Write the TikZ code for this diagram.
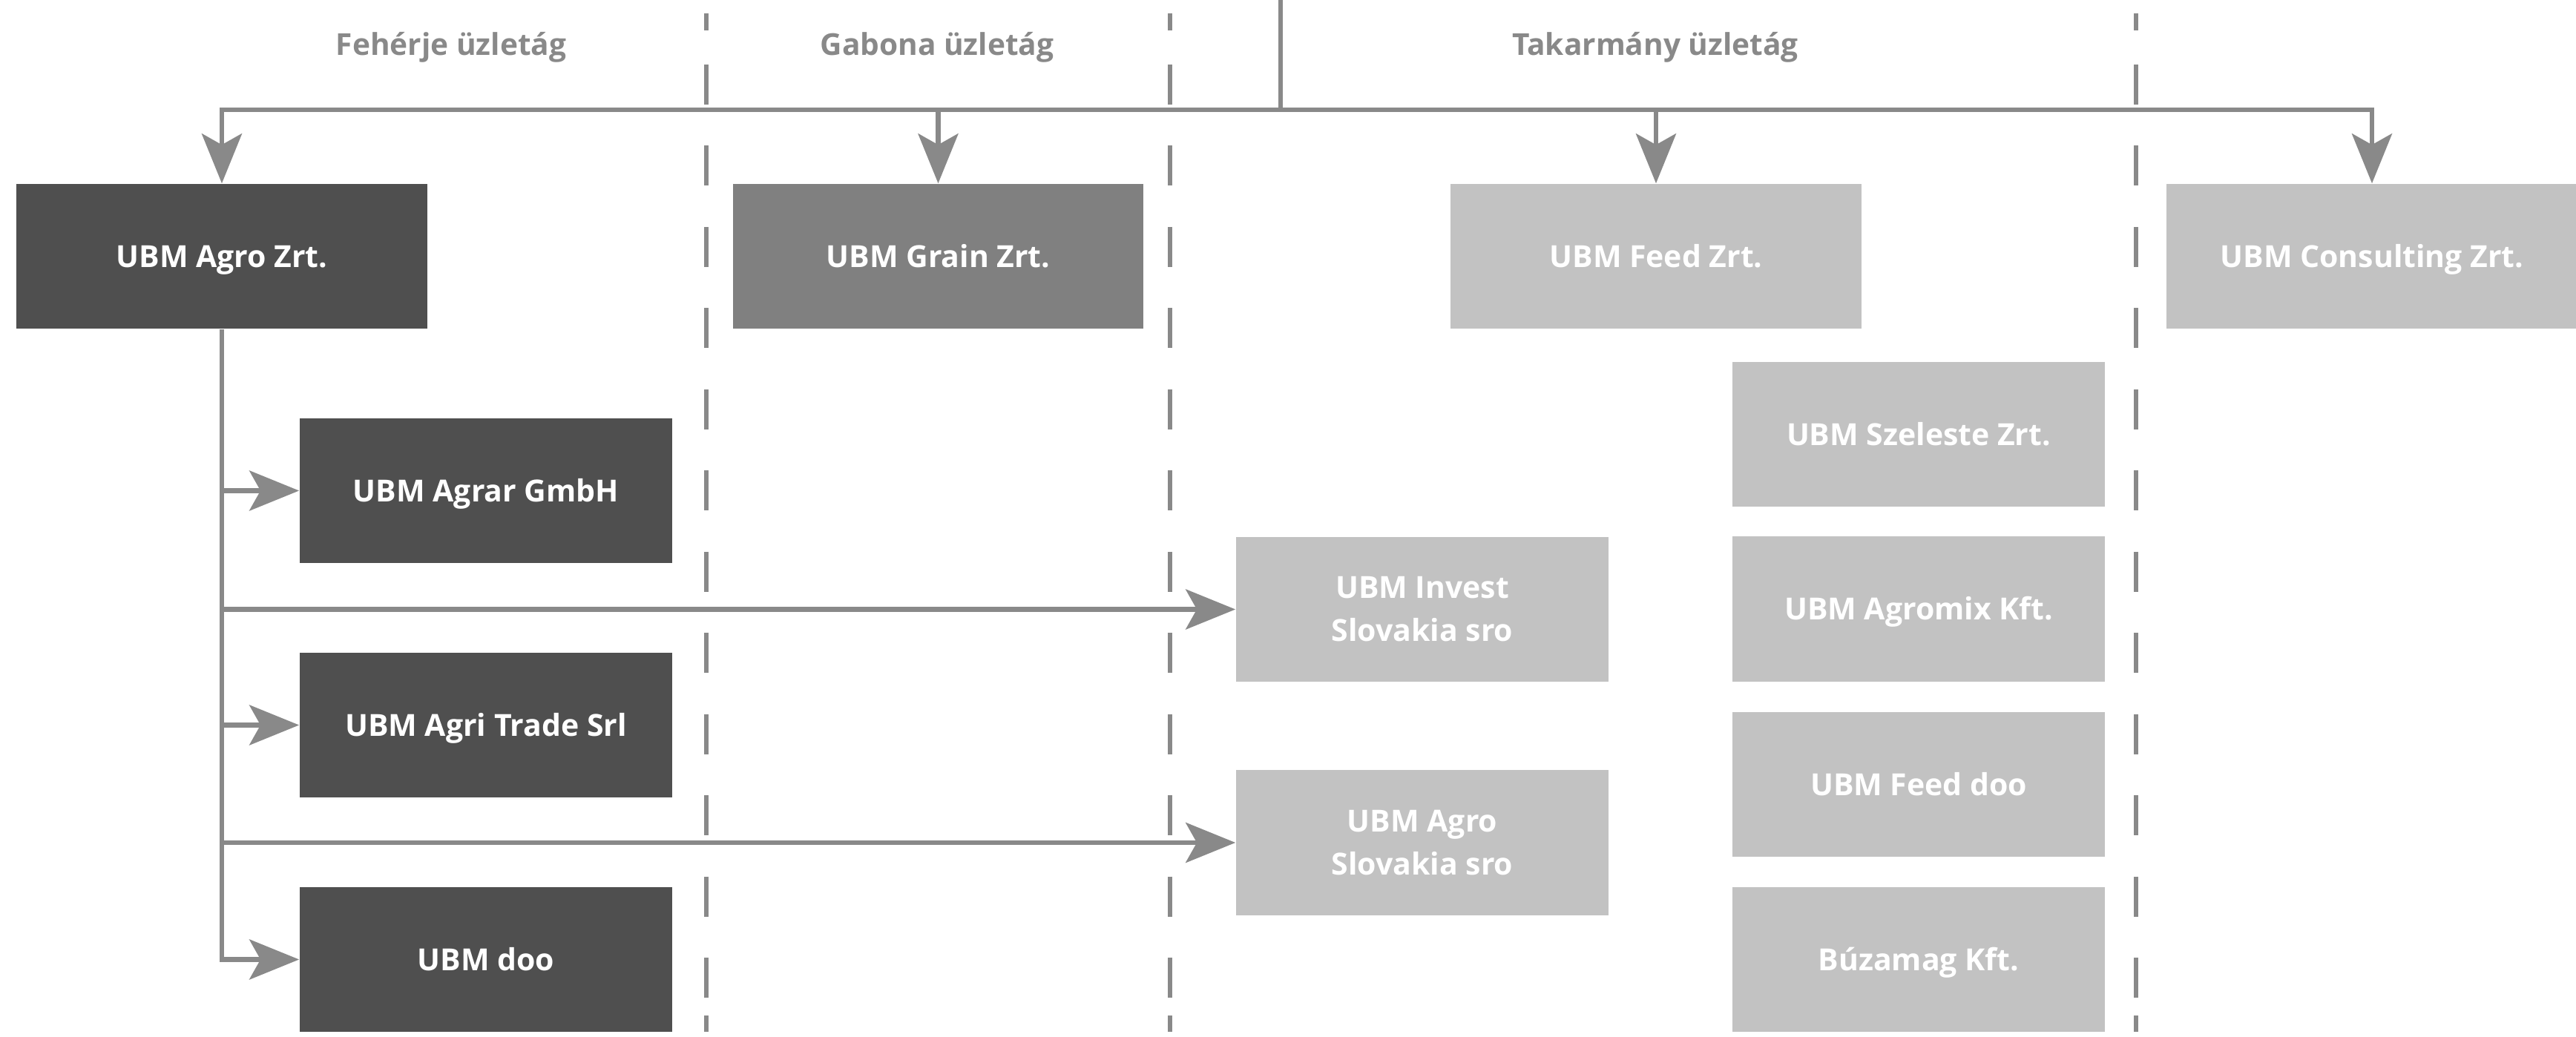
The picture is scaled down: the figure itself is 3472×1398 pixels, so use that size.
\documentclass[tikz,border=0pt]{standalone}
\usepackage{fontspec}
\setmainfont{Open Sans}
\usetikzlibrary{arrows.meta}
\definecolor{darkbox}{HTML}{4F4F4F}
\definecolor{midbox}{HTML}{808080}
\definecolor{lightbox}{HTML}{C2C2C2}
\definecolor{linec}{HTML}{898989}
\begin{document}
\begin{tikzpicture}[x=0.01cm,y=-0.01cm,
  box/.style={rectangle, inner sep=0pt, minimum height=1.95cm, minimum width=5.02cm, text=white, font=\bfseries\fontsize{11.65}{16.5}\selectfont, align=center},
  bigbox/.style={box, minimum width=5.53cm},
  oneline/.style={text height=8.3pt, text depth=0pt},
  conn/.style={draw=linec, line width=1.8pt},
  arr/.style={conn, -{Stealth[length=0.67cm, width=0.54cm, inset=0.15cm]}},
  divider/.style={draw=linec, line width=1.85pt, dash pattern=on 0.54cm off 0.554cm},
  head/.style={text=linec, font=\bfseries\fontsize{11.55}{14}\selectfont, anchor=base, inner sep=0pt}]
\useasboundingbox (0,0) rectangle (3472,1398);

% dividers
\foreach \dx in {952,1577,2879}
  \draw[divider] (\dx,18) -- (\dx,41) (\dx,87) -- (\dx,1346) (\dx,1369) -- (\dx,1391);

% headers
\node[head] (h1) at (608,75) {Fehérje üzletág};
\node[head] (h2) at (1263,75) {Gabona üzletág};
\node[head] (h3) at (2231,75) {Takarmány üzletág};

% top row
\node[bigbox, oneline, fill=darkbox] (agro) at (299,345.5) {UBM Agro Zrt.};
\node[bigbox, oneline, fill=midbox] (grain) at (1264.5,345.5) {UBM Grain Zrt.};
\node[bigbox, oneline, fill=lightbox] (feed) at (2232,345.5) {UBM Feed Zrt.};
\node[bigbox, oneline, fill=lightbox] (consult) at (3197,345.5) {UBM Consulting Zrt.};

% left column
\node[box, oneline, fill=darkbox] (agrar) at (655,661.5) {UBM Agrar GmbH};
\node[box, oneline, fill=darkbox] (agritrade) at (655,977.5) {UBM Agri Trade Srl};
\node[box, oneline, fill=darkbox] (doo) at (655,1293.5) {UBM doo};

% middle column
\node[box, fill=lightbox] (invest) at (1917,821.5) {UBM Invest\\Slovakia sro};
\node[box, fill=lightbox] (agroslov) at (1917,1136) {UBM Agro\\Slovakia sro};

% right column
\node[box, oneline, fill=lightbox] (szeleste) at (2586,585.5) {UBM Szeleste Zrt.};
\node[box, oneline, fill=lightbox] (agromix) at (2586,821) {UBM Agromix Kft.};
\node[box, oneline, fill=lightbox] (feeddoo) at (2586,1057.5) {UBM Feed doo};
\node[box, oneline, fill=lightbox] (buzamag) at (2586,1293.5) {Búzamag Kft.};

% connectors
\coordinate (top) at (1726,0);
\coordinate (bus) at (1726,148);
\draw[conn] (top) -- (bus);
\draw[arr] (bus) -| (agro.north);
\draw[arr] (bus) -| (grain.north);
\draw[arr] (bus) -| (feed.north);
\draw[arr] (bus) -| (consult.north);

\draw[arr] (agro.south) |- (doo.west);
\draw[arr] (agro.south |- agrar.west) -- (agrar.west);
\draw[arr] (agro.south |- invest.west) -- (invest.west);
\draw[arr] (agro.south |- agritrade.west) -- (agritrade.west);
\draw[arr] (agro.south |- agroslov.west) -- (agroslov.west);
\end{tikzpicture}
\end{document}
